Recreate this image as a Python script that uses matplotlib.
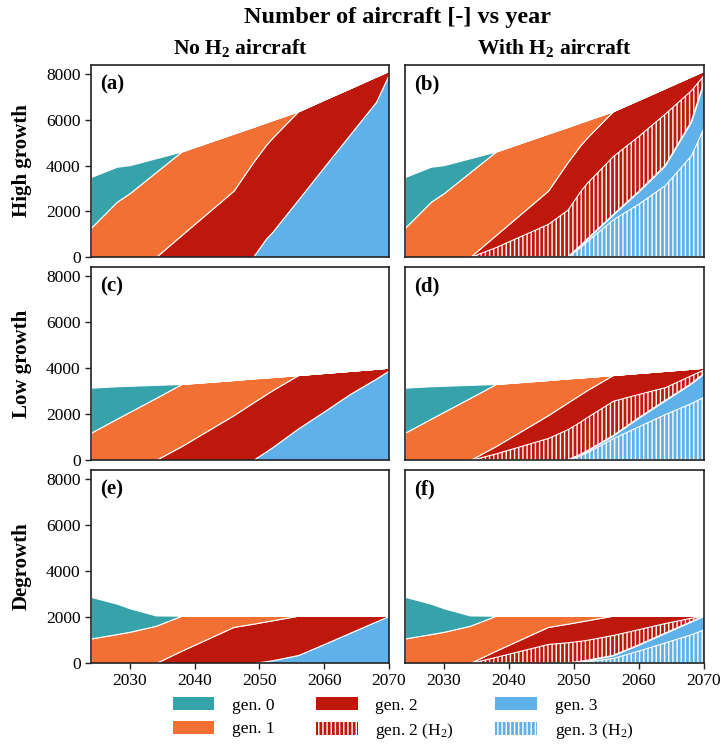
import matplotlib
matplotlib.use("Agg")
import matplotlib.pyplot as plt
from matplotlib.patches import Patch

plt.rcParams["font.family"] = ["Liberation Serif", "DejaVu Serif"]
plt.rcParams["mathtext.default"] = "regular"
plt.rcParams["hatch.color"] = "white"
plt.rcParams["hatch.linewidth"] = 1.0

years = [2024, 2028, 2030, 2034, 2038, 2046, 2049, 2051, 2052, 2056, 2060, 2064, 2068, 2070]

# High growth
gen0_hi = [2220, 1530, 1220, 610, 0, 0, 0, 0, 0, 0, 0, 0, 0, 0]
gen1_hi = [1280, 2420, 2800, 3710, 3650, 2500, 1550, 990, 770, 0, 0, 0, 0, 0]
gen2_hi = [0, 0, 0, 0, 970, 2900, 4140, 4100, 4120, 3860, 2940, 2020, 1110, 150]
gen3_hi = [0, 0, 0, 0, 0, 0, 0, 800, 1100, 2520, 3950, 5370, 6790, 8000]
# High growth with H2
gen2_hi_h = [0, 0, 0, 0, 527, 1450, 2070, 2000, 1970, 1960, 1566, 1110, 600, 170]
gen2h2_hi = [0, 0, 0, 0, 440, 1450, 2070, 2400, 2470, 2570, 2440, 2280, 1400, 330]
gen3_hi_h = [0, 0, 0, 0, 0, 0, 0, 50, 80, 200, 530, 850, 1450, 1950]
gen3h2_hi = [0, 0, 0, 0, 0, 0, 0, 450, 700, 1650, 2350, 3150, 4450, 5700]

# Low growth
gen0_lo = [1960, 1410, 1130, 570, 0, 0, 0, 0, 0, 0, 0, 0, 0, 0]
gen1_lo = [1190, 1800, 2100, 2700, 2700, 1530, 1050, 730, 570, 0, 0, 0, 0, 0]
gen2_lo = [0, 0, 0, 0, 610, 1950, 2500, 2490, 2480, 2320, 1670, 1000, 430, 120]
gen3_lo = [0, 0, 0, 0, 0, 0, 0, 370, 560, 1380, 2120, 2880, 3540, 3900]
# Low growth with H2
gen2_lo_h = [0, 0, 0, 0, 320, 990, 1160, 1180, 1170, 1120, 910, 710, 280, 70]
gen2h2_lo = [0, 0, 0, 0, 290, 960, 1340, 1430, 1470, 1520, 1030, 580, 370, 180]
gen3_lo_h = [0, 0, 0, 0, 0, 0, 0, 30, 60, 110, 370, 590, 840, 1010]
gen3h2_lo = [0, 0, 0, 0, 0, 0, 0, 220, 340, 950, 1480, 2000, 2480, 2760]

# Degrowth
gen0_de = [1810, 1320, 1020, 450, 0, 0, 0, 0, 0, 0, 0, 0, 0, 0]
gen1_de = [1070, 1260, 1360, 1620, 1520, 490, 350, 250, 200, 0, 0, 0, 0, 0]
gen2_de = [0, 0, 0, 0, 540, 1570, 1710, 1730, 1740, 1710, 1230, 740, 250, 10]
gen3_de = [0, 0, 0, 0, 0, 0, 0, 80, 120, 350, 830, 1320, 1810, 2050]
# Degrowth with H2
gen2_de_h = [0, 0, 0, 0, 270, 740, 810, 840, 850, 840, 580, 320, 90, 10]
gen2h2_de = [0, 0, 0, 0, 270, 830, 900, 890, 890, 890, 680, 440, 170, 0]
gen3_de_h = [0, 0, 0, 0, 0, 0, 0, 30, 40, 110, 250, 400, 550, 580]
gen3h2_de = [0, 0, 0, 0, 0, 0, 0, 50, 80, 220, 550, 900, 1250, 1470]

row_names = ["High growth", "Low growth", "Degrowth"]
col_names = ["No H$_2$ aircraft", "With H$_2$ aircraft"]
panel_tags = ["(a)", "(b)", "(c)", "(d)", "(e)", "(f)"]

c_g0 = "#35a3a9"
c_g1 = "#f37034"
c_g2 = "#bd180b"
c_g3 = "#5eb1e9"
hatch = "||||"

no_h2 = [
    (gen3_hi, gen2_hi, gen1_hi, gen0_hi),
    (gen3_lo, gen2_lo, gen1_lo, gen0_lo),
    (gen3_de, gen2_de, gen1_de, gen0_de),
]
with_h2 = [
    (gen3h2_hi, gen3_hi_h, gen2h2_hi, gen2_hi_h, gen1_hi, gen0_hi),
    (gen3h2_lo, gen3_lo_h, gen2h2_lo, gen2_lo_h, gen1_lo, gen0_lo),
    (gen3h2_de, gen3_de_h, gen2h2_de, gen2_de_h, gen1_de, gen0_de),
]

fig = plt.figure(figsize=(7.21, 7.45), dpi=100)

W, H = 721, 745
col_x = [(91, 389), (405, 704)]
row_y = [(65, 257), (267, 460), (470, 663)]

for r in range(3):
    for c in range(2):
        x0, x1 = col_x[c]
        y0, y1 = row_y[r]
        ax = fig.add_axes([x0 / W, 1 - y1 / H, (x1 - x0) / W, (y1 - y0) / H])
        if c == 0:
            series = no_h2[r]
            cols = [c_g3, c_g2, c_g1, c_g0]
            hatches = [None, None, None, None]
        else:
            series = with_h2[r]
            cols = [c_g3, c_g3, c_g2, c_g2, c_g1, c_g0]
            hatches = [hatch, None, hatch, None, None, None]
        polys = ax.stackplot(years, *series, colors=cols, edgecolor="white", linewidth=0.8)
        for p, h in zip(polys, hatches):
            if h:
                p.set_hatch(h)

        ax.set_xlim(2024, 2070)
        ax.set_ylim(0, 8400)
        ax.set_yticks([0, 2000, 4000, 6000, 8000])
        ax.set_xticks([2030, 2040, 2050, 2060, 2070])
        ax.tick_params(labelsize=12.5, length=4, width=1, color="#222222")
        for s in ax.spines.values():
            s.set_linewidth(1.2)
            s.set_color("#222222")
        if c == 1:
            ax.tick_params(axis="y", left=False, labelleft=False)
        if r < 2:
            ax.tick_params(axis="x", bottom=False, labelbottom=False)
        ax.text(0.03, 0.95, panel_tags[2 * r + c], transform=ax.transAxes,
                fontsize=15, fontweight="bold", va="top", ha="left")

        if c == 0:
            fig.text(22 / W, 1 - (y0 + y1) / 2 / H, row_names[r], rotation=90,
                     fontsize=15, fontweight="bold", ha="center", va="center")
        if r == 0:
            fig.text((x0 + x1) / 2 / W, 1 - 48 / H, col_names[c],
                     fontsize=15.5, fontweight="bold", ha="center", va="center")

fig.text(0.5 * (91 + 704) / W, 1 - 18 / H, "Number of aircraft [-] vs year",
         fontsize=17.5, fontweight="bold", ha="center", va="center")

handles = [
    Patch(facecolor=c_g0, edgecolor="none", label="gen. 0"),
    Patch(facecolor=c_g1, edgecolor="none", label="gen. 1"),
    Patch(facecolor=c_g2, edgecolor="none", label="gen. 2"),
    Patch(facecolor=c_g2, edgecolor="white", linewidth=0, hatch=hatch, label="gen. 2 (H$_2$)"),
    Patch(facecolor=c_g3, edgecolor="none", label="gen. 3"),
    Patch(facecolor=c_g3, edgecolor="white", linewidth=0, hatch=hatch, label="gen. 3 (H$_2$)"),
]
fig.legend(handles=handles, ncol=3, loc="center", bbox_to_anchor=(403 / W, 1 - 719 / H),
           frameon=False, fontsize=12.5, handlelength=2.4, handleheight=0.8,
           handletextpad=1.0, columnspacing=2.4, labelspacing=0.4)

fig.savefig("out.png", dpi=100)
